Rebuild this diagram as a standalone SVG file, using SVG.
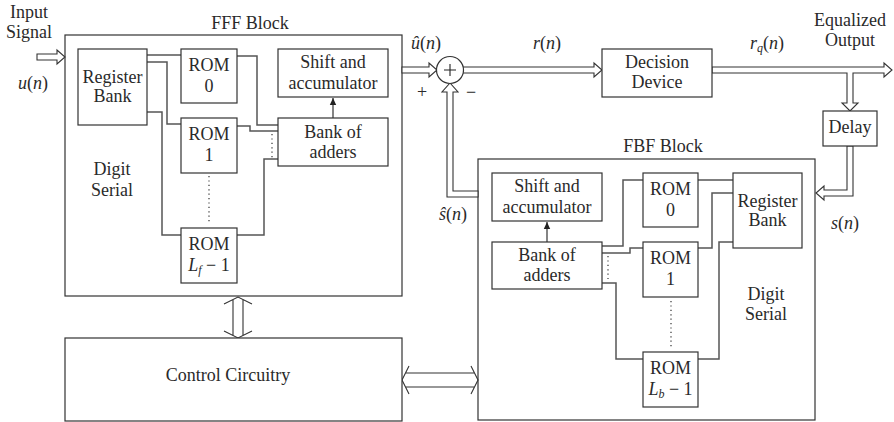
<svg xmlns="http://www.w3.org/2000/svg" width="894" height="422" viewBox="0 0 894 422">
<style>
.box{fill:#fff;stroke:#333;stroke-width:1.2}
.blk{fill:none;stroke:#333;stroke-width:1.2}
.wire{fill:none;stroke:#555;stroke-width:1.5}
.dot{fill:none;stroke:#333;stroke-width:1.2;stroke-dasharray:1.2 3.2}
.harrow{fill:#fff;stroke:#333;stroke-width:1.1;stroke-linejoin:miter}
.chev{fill:none;stroke:#333;stroke-width:1.1}
text{font-family:"Liberation Serif","Times New Roman",serif;font-size:18px;fill:#2a2a2a;text-anchor:middle}
.it{font-style:italic}
.sub{font-size:12px;font-style:italic}
</style>
<defs>
<marker id="tri" markerWidth="8" markerHeight="8" refX="7" refY="4" orient="auto" markerUnits="userSpaceOnUse">
<path d="M0,0.8 L7,4 L0,7.2 Z" fill="#222"/>
</marker>
</defs>

<!-- Block outlines -->
<g id="fff-block">
<rect class="blk" x="65" y="35" width="337" height="261"/>
<text x="250" y="29">FFF Block</text>
</g>
<g id="fbf-block">
<rect class="blk" x="478" y="159" width="337" height="261"/>
<text x="663" y="152">FBF Block</text>
</g>

<!-- Connectors -->
<g id="connectors">
<!-- FFF internal wiring -->
<path class="wire" d="M147,55 H181"/>
<path class="wire" d="M147,62 H167 V124 H181"/>
<path class="wire" d="M147,112 H162 V235 H181"/>
<path class="wire" d="M237,56 H257 V125 H278"/>
<path class="wire" d="M237,126 H250 V131 H278"/>
<path class="wire" d="M237,235 H264 V159 H278"/>
<path class="dot" d="M272,134 V158"/>
<path class="dot" d="M209,176 V224"/>
<path class="blk" d="M333,118 V98" marker-end="url(#tri)"/>
<!-- FBF internal wiring -->
<path class="wire" d="M698,180 H733"/>
<path class="wire" d="M698,248 H712 V193 H733"/>
<path class="wire" d="M698,359 H719 V242 H733"/>
<path class="wire" d="M643,180 H623 V246 H602"/>
<path class="wire" d="M643,248 H630 V253 H602"/>
<path class="wire" d="M643,359 H616 V283 H602"/>
<path class="dot" d="M608,256 V279"/>
<path class="dot" d="M671,301 V348"/>
<path class="blk" d="M547,242 V222" marker-end="url(#tri)"/>
<!-- Hollow signal arrows -->
<path class="harrow" d="M37,54 H57 V50 L65,57 L57,64 V60 H37 Z"/>
<path class="harrow" d="M402,67 H429 V63 L437,70 L429,77 V73 H402 Z"/>
<path class="harrow" d="M458,67 H594 V63 L602,70 L594,77 V73 H458 Z"/>
<path class="harrow" d="M712,67 H884 V63 L892,70 L884,77 V73 H853 V103 H858 L850,111 L842,103 H847 V73 H712 Z"/>
<path class="harrow" d="M847,146 V190 H824 V186 L816,193 L824,200 V196 H853 V146 Z"/>
<path class="harrow" d="M478,191 H453 V92 H458 L450,83 L442,92 H447 V197 H478 Z"/>
<!-- Double-headed bus arrows -->
<path class="chev" d="M224,304 L238,297 L252,304 M233,299.5 V335.5 M243,299.5 V335.5 M224,331 L238,338 L252,331"/>
<path class="chev" d="M409,366 L402,380 L409,394 M405.5,373 H474.5 M405.5,387 H474.5 M471,366 L478,380 L471,394"/>
</g>

<!-- Summer -->
<g id="summer">
<circle cx="450" cy="70" r="13.5" fill="#fff" stroke="#333" stroke-width="1.2"/>
<path d="M444,70 H456 M450,64 V76" stroke="#222" stroke-width="1.1"/>
<text x="422" y="98">+</text>
<text x="471" y="98">−</text>
</g>

<!-- FFF nodes -->
<g id="fff-register-bank">
<rect class="box" x="78" y="49" width="69" height="76"/>
<text x="112.5" y="83">Register</text>
<text x="112.5" y="102">Bank</text>
</g>
<g id="fff-rom0">
<rect class="box" x="181" y="49" width="56" height="54"/>
<text x="209" y="71">ROM</text>
<text x="209" y="92">0</text>
</g>
<g id="fff-rom1">
<rect class="box" x="181" y="118" width="56" height="55"/>
<text x="209" y="140">ROM</text>
<text x="209" y="161">1</text>
</g>
<g id="fff-romlf">
<rect class="box" x="181" y="228" width="56" height="55"/>
<text x="209" y="250">ROM</text>
<text x="209" y="271"><tspan class="it">L</tspan><tspan class="sub" dy="3">f</tspan><tspan dy="-3"> − 1</tspan></text>
</g>
<g id="fff-shift-acc">
<rect class="box" x="278" y="49" width="110" height="48"/>
<text x="333" y="68">Shift and</text>
<text x="333" y="89">accumulator</text>
</g>
<g id="fff-bank-adders">
<rect class="box" x="278" y="118" width="110" height="48"/>
<text x="333" y="138">Bank of</text>
<text x="333" y="158">adders</text>
</g>
<g id="fff-digit-serial">
<text x="112" y="175">Digit</text>
<text x="112" y="196">Serial</text>
</g>

<!-- FBF nodes -->
<g id="fbf-shift-acc">
<rect class="box" x="492" y="173" width="110" height="48"/>
<text x="547" y="192">Shift and</text>
<text x="547" y="213">accumulator</text>
</g>
<g id="fbf-bank-adders">
<rect class="box" x="492" y="242" width="110" height="47"/>
<text x="547" y="261">Bank of</text>
<text x="547" y="281">adders</text>
</g>
<g id="fbf-rom0">
<rect class="box" x="643" y="173" width="55" height="54"/>
<text x="670.5" y="195">ROM</text>
<text x="670.5" y="216">0</text>
</g>
<g id="fbf-rom1">
<rect class="box" x="643" y="242" width="55" height="55"/>
<text x="670.5" y="264">ROM</text>
<text x="670.5" y="285">1</text>
</g>
<g id="fbf-romlb">
<rect class="box" x="643" y="352" width="55" height="55"/>
<text x="670.5" y="374">ROM</text>
<text x="670.5" y="395"><tspan class="it">L</tspan><tspan class="sub" dy="3">b</tspan><tspan dy="-3"> − 1</tspan></text>
</g>
<g id="fbf-register-bank">
<rect class="box" x="733" y="173" width="69" height="75"/>
<text x="767.5" y="207">Register</text>
<text x="767.5" y="226">Bank</text>
</g>
<g id="fbf-digit-serial">
<text x="766" y="300">Digit</text>
<text x="766" y="320">Serial</text>
</g>

<!-- Top-level nodes -->
<g id="decision-device">
<rect class="box" x="602" y="49" width="110" height="48"/>
<text x="657" y="68">Decision</text>
<text x="657" y="88">Device</text>
</g>
<g id="delay">
<rect class="box" x="823" y="111" width="54" height="35"/>
<text x="850" y="133">Delay</text>
</g>
<g id="control-circuitry">
<rect class="box" x="65" y="338" width="337" height="83"/>
<text x="228" y="381">Control Circuitry</text>
</g>

<!-- Signal labels -->
<g id="labels">
<text x="29" y="18">Input</text>
<text x="29" y="38">Signal</text>
<text x="33" y="89"><tspan class="it">u</tspan>(<tspan class="it">n</tspan>)</text>
<text x="426" y="49"><tspan class="it">û</tspan>(<tspan class="it">n</tspan>)</text>
<text x="547" y="49"><tspan class="it">r</tspan>(<tspan class="it">n</tspan>)</text>
<text x="767" y="49"><tspan class="it">r</tspan><tspan class="sub" dy="3">q</tspan><tspan dy="-3">(</tspan><tspan class="it">n</tspan>)</text>
<text x="850" y="26">Equalized</text>
<text x="850" y="46">Output</text>
<text x="845" y="229"><tspan class="it">s</tspan>(<tspan class="it">n</tspan>)</text>
<text x="453" y="220"><tspan class="it">ŝ</tspan>(<tspan class="it">n</tspan>)</text>
</g>
</svg>
